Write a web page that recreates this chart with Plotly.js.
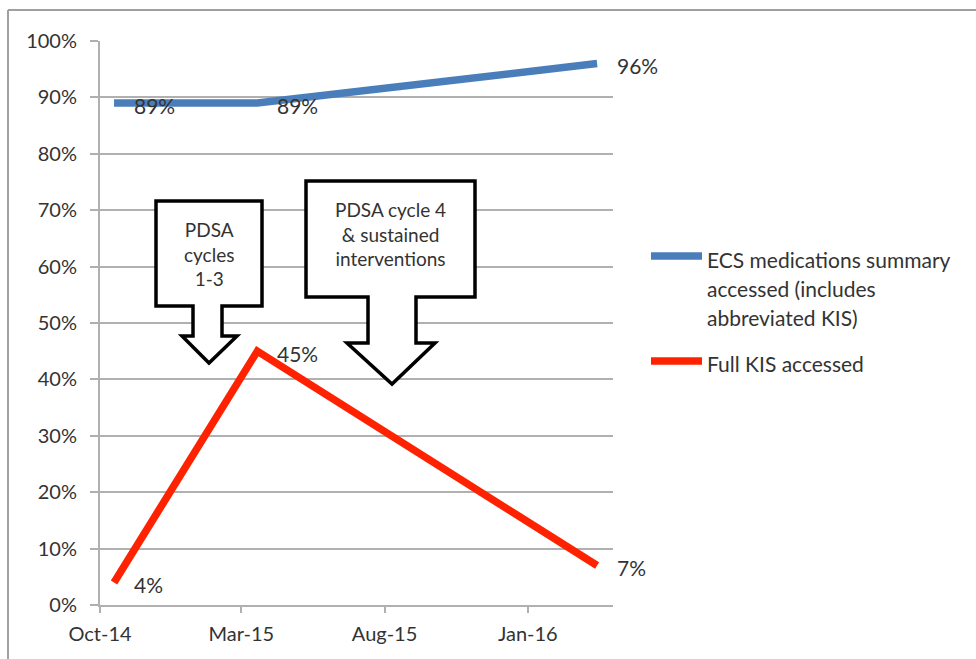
<!DOCTYPE html>
<html>
<head>
<meta charset="utf-8">
<script src="https://cdn.plot.ly/plotly-3.0.1.min.js"></script>
<style>
  html, body { margin: 0; padding: 0; background: #ffffff; }
  #chart { width: 976px; height: 659px; }
</style>
</head>
<body>
<div id="chart"></div>
<script>
// ---- data ----
const dates = ['2014-10-16', '2015-03-18', '2016-03-15'];
const ecsValues = [0.89, 0.89, 0.96];
const kisValues = [0.04, 0.45, 0.07];
const seriesNames = ['ECS medications summary accessed (includes abbreviated KIS)', 'Full KIS accessed'];
const legendLines = [['ECS medications summary', 'accessed (includes', 'abbreviated KIS)'], ['Full KIS accessed']];
const seriesColors = ['#4a7ebb', '#ff2200'];
const xTickVals = ['2014-10-01', '2015-03-01', '2015-08-01', '2016-01-01'];
const xTickText = ['Oct-14', 'Mar-15', 'Aug-15', 'Jan-16'];
const calloutTexts = ['PDSA<br>cycles<br>1-3', 'PDSA cycle 4<br>& sustained<br>interventions'];

// ---- layout helpers (pixel -> paper) ----
const L = 100, R = 613, T = 41, B = 605;
const px = x => (x - L) / (R - L);
const py = y => (B - y) / (B - T);
const fontFam = 'Lato, "Open Sans", sans-serif';
const textColor = '#333333';
const gridColor = '#b0b0b0';

function calloutPath(box) {
  const pts = [
    [box.l, box.t], [box.r, box.t], [box.r, box.b], [box.sr, box.b], [box.sr, box.wy],
    [box.wr, box.wy], [box.tx, box.ty], [box.wl, box.wy], [box.sl, box.wy], [box.sl, box.b],
    [box.l, box.b]
  ];
  return 'M' + pts.map(p => px(p[0]).toFixed(5) + ',' + py(p[1]).toFixed(5)).join(' L') + ' Z';
}
const boxes = [
  {l: 156, r: 262, t: 201, b: 306, sl: 193, sr: 222, wl: 182, wr: 237, wy: 336, tx: 209, ty: 363, cy: 254},
  {l: 306, r: 475, t: 181, b: 297, sl: 368, sr: 416, wl: 347, wr: 435, wy: 343, tx: 392, ty: 384, cy: 234}
];

const series = [ecsValues, kisValues];
const traces = series.map((vals, i) => ({
  type: 'scatter', mode: 'lines', x: dates, y: vals,
  name: seriesNames[i], showlegend: false,
  line: {color: seriesColors[i], width: 7.5}
}));

const annotations = [];
series.forEach((vals, i) => {
  vals.forEach((v, j) => {
    annotations.push({
      x: dates[j], y: v, xref: 'x', yref: 'y', text: Math.round(v * 100) + '%',
      showarrow: false, xanchor: 'left', yanchor: 'middle', xshift: 18, yshift: -2,
      font: {family: fontFam, size: 21, color: textColor}
    });
  });
});
boxes.forEach((b, i) => {
  annotations.push({
    x: px((b.l + b.r) / 2), y: py(b.cy), xref: 'paper', yref: 'paper', text: calloutTexts[i],
    showarrow: false, xanchor: 'center', yanchor: 'middle',
    font: {family: fontFam, size: 19, color: textColor}
  });
});
// legend text, one annotation per line
const legendTopY = [259, 363];
legendLines.forEach((lines, i) => {
  lines.forEach((t, k) => {
    annotations.push({
      x: px(705), y: py(legendTopY[i] + k * 29), xref: 'paper', yref: 'paper', text: t,
      showarrow: false, xanchor: 'left', yanchor: 'middle', align: 'left',
      font: {family: fontFam, size: 21, color: textColor}
    });
  });
});

const shapes = [];
boxes.forEach(b => shapes.push({
  type: 'path', xref: 'paper', yref: 'paper', path: calloutPath(b),
  line: {color: '#000000', width: 3.5}, fillcolor: '#ffffff', layer: 'above'
}));
const legendSampleY = [256, 361];
seriesColors.forEach((c, i) => shapes.push({
  type: 'line', xref: 'paper', yref: 'paper', x0: px(651), x1: px(702),
  y0: py(legendSampleY[i]), y1: py(legendSampleY[i]), line: {color: c, width: 7.5}
}));
// outer frame (top and left only)
shapes.push({type: 'line', xref: 'paper', yref: 'paper', x0: px(8), x1: px(976), y0: py(10), y1: py(10), line: {color: '#a0a0a0', width: 2}});
shapes.push({type: 'line', xref: 'paper', yref: 'paper', x0: px(8), x1: px(8), y0: py(10), y1: py(659), line: {color: '#a0a0a0', width: 2}});

const layout = {
  width: 976, height: 659,
  margin: {l: L, r: 976 - R, t: T, b: 659 - B, pad: 0},
  paper_bgcolor: '#ffffff', plot_bgcolor: '#ffffff',
  showlegend: false,
  font: {family: fontFam, size: 20, color: textColor},
  xaxis: {
    type: 'date', range: ['2014-10-01', '2016-04-01'],
    tickmode: 'array', tickvals: xTickVals, ticktext: xTickText,
    showgrid: false, zeroline: false, showline: true, linecolor: gridColor, linewidth: 2,
    ticks: 'outside', ticklen: 6, tickcolor: gridColor, tickwidth: 2, ticklabelstandoff: 4,
    tickfont: {family: fontFam, size: 20, color: textColor}
  },
  yaxis: {
    range: [0, 1], dtick: 0.1, tickformat: '.0%',
    showgrid: true, gridcolor: gridColor, gridwidth: 2,
    zeroline: false, showline: true, linecolor: gridColor, linewidth: 2,
    ticks: 'outside', ticklen: 8, tickcolor: gridColor, tickwidth: 2, ticklabelstandoff: 9,
    tickfont: {family: fontFam, size: 20, color: textColor}
  },
  annotations: annotations,
  shapes: shapes
};

Plotly.newPlot('chart', traces, layout, {staticPlot: true, displayModeBar: false});
</script>
</body>
</html>
